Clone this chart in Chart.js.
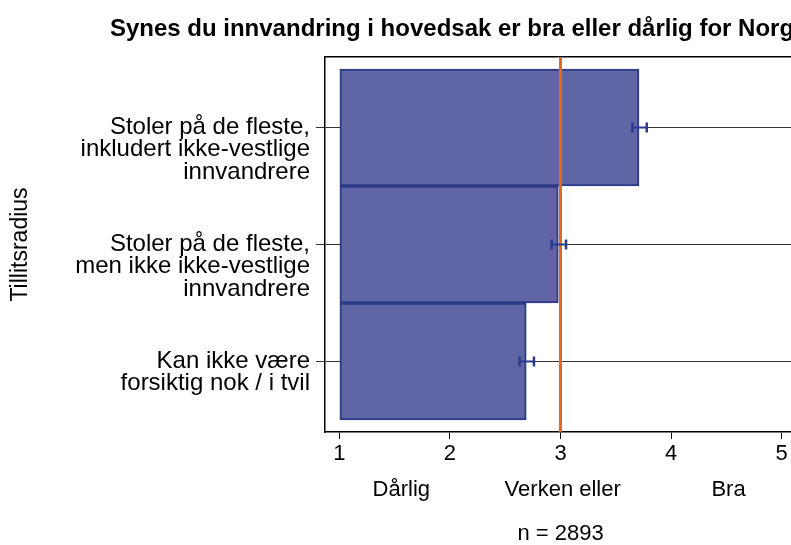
<!DOCTYPE html>
<html>
<head>
<meta charset="utf-8">
<script src="https://cdn.jsdelivr.net/npm/chart.js@4.4.1/dist/chart.umd.min.js"></script>
<style>
  html, body { margin: 0; padding: 0; background: #ffffff; overflow: hidden; }
  #wrap { position: relative; height: 545px; }
</style>
</head>
<body>
<div id="wrap"><canvas id="c"></canvas></div>
<script>
// ---- data ----
const categories = [
  ["Stoler på de fleste,", "inkludert ikke-vestlige", "innvandrere"],
  ["Stoler på de fleste,", "men ikke ikke-vestlige", "innvandrere"],
  ["Kan ikke være", "forsiktig nok / i tvil"]
];
const means    = [3.71, 2.98, 2.69];
const ciLow    = [3.65, 2.92, 2.63];
const ciHigh   = [3.78, 3.05, 2.76];
const xTicks   = [1, 2, 3, 4, 5];
const answerLabels = ["Dårlig", "Verken eller", "Bra"];
const answerPos    = [1.56, 3.02, 4.52];
const refLine  = [3];
const titleText = "Synes du innvandring i hovedsak er bra eller dårlig for Norge?";
const xTitle = "n = 2893";
const yTitle = "Tillitsradius";

// ---- layout helpers ----
const FONT = '"Liberation Sans", Arial, Helvetica, sans-serif';
const TITLE_SIZE = 24;
const TICK_SIZE = 22;
const YTICK_SIZE = 24;
const mctx = document.createElement('canvas').getContext('2d');
mctx.font = 'bold ' + TITLE_SIZE + 'px ' + FONT;
const titleW = mctx.measureText(titleText).width;
const W = Math.round(2 * 110 + titleW);
const PLOT_LEFT = 325, PLOT_RIGHT = 796, PLOT_TOP = 57, PLOT_BOTTOM = 432;

const canvas = document.getElementById('c');
canvas.width = W; canvas.height = 545;
canvas.style.width = W + 'px'; canvas.style.height = '545px';
document.getElementById('wrap').style.width = W + 'px';

const Y_MIN = -0.603, Y_MAX = 2.603;
const X_MIN = 0.87, X_MAX = 5.13;

const barColor = '#6066a5';
const barBorder = '#2d3a8b';
const orange = '#e6691a';

const errorBars = {
  id: 'errorBars',
  afterDatasetsDraw(chart) {
    const ctx = chart.ctx;
    const xs = chart.scales.x, ys = chart.scales.y;
    ctx.save();
    ctx.strokeStyle = barBorder;
    for (let i = 0; i < means.length; i++) {
      const y = ys.getPixelForValue(i);
      const x1 = xs.getPixelForValue(ciLow[i]);
      const x2 = xs.getPixelForValue(ciHigh[i]);
      ctx.lineWidth = 2;
      ctx.beginPath();
      ctx.moveTo(x1, y); ctx.lineTo(x2, y);
      ctx.stroke();
      ctx.lineWidth = 2.5;
      ctx.beginPath();
      ctx.moveTo(x1, y - 5); ctx.lineTo(x1, y + 5);
      ctx.moveTo(x2, y - 5); ctx.lineTo(x2, y + 5);
      ctx.stroke();
    }
    ctx.restore();
  }
};

// first line of each label sits on its tick (pad with blank lines above)
const tickLabel = i => {
  const lines = categories[i];
  return Array(lines.length - 1).fill('').concat(lines);
};

new Chart(canvas, {
  type: 'bar',
  data: {
    datasets: [
      {
        type: 'bar',
        data: means.map((v, i) => ({ x: v, y: i })),
        base: 1,
        backgroundColor: barColor,
        borderColor: barBorder,
        borderWidth: 2,
        borderSkipped: false,
        barPercentage: 1,
        categoryPercentage: 1,
        xAxisID: 'x', yAxisID: 'y',
        order: 2
      },
      {
        type: 'line',
        data: [{ x: refLine[0], y: Y_MIN }, { x: refLine[0], y: Y_MAX }],
        borderColor: orange,
        borderWidth: 3,
        pointRadius: 0,
        fill: false,
        xAxisID: 'x', yAxisID: 'y',
        order: 1
      }
    ]
  },
  options: {
    indexAxis: 'y',
    responsive: false,
    animation: false,
    devicePixelRatio: 1,
    layout: { padding: 0 },
    plugins: {
      legend: { display: false },
      tooltip: { enabled: false },
      title: {
        display: true,
        text: titleText,
        color: '#000',
        font: { family: FONT, size: TITLE_SIZE, weight: 'bold' },
        padding: { top: 14.5, bottom: 13.7 }
      }
    },
    scales: {
      y: {
        type: 'linear', position: 'left', reverse: true,
        offset: false,
        min: Y_MIN, max: Y_MAX,
        afterBuildTicks: s => { s.ticks = categories.map((c, i) => ({ value: i })); },
        afterFit: s => { s.width = PLOT_LEFT; },
        ticks: {
          color: '#000',
          font: { family: FONT, size: YTICK_SIZE, lineHeight: 0.93 },
          padding: 6,
          callback: v => tickLabel(v)
        },
        grid: { offset: false, color: '#333', lineWidth: 1, tickLength: 9, drawTicks: true },
        border: { display: true, color: '#000', width: 1.5 },
        title: {
          display: true, text: yTitle, color: '#000',
          font: { family: FONT, size: 23 },
          padding: { top: 7, bottom: 0 }
        }
      },
      y2: {
        type: 'linear', position: 'right', reverse: true, offset: false,
        min: Y_MIN, max: Y_MAX,
        afterFit: s => { s.width = W - PLOT_RIGHT; },
        ticks: { display: false },
        grid: { display: false },
        border: { display: true, color: '#000', width: 1.5 }
      },
      x: {
        type: 'linear', position: 'bottom', weight: 0,
        min: X_MIN, max: X_MAX,
        afterBuildTicks: s => { s.ticks = xTicks.map(v => ({ value: v })); },
        afterFit: s => { s.height = 40; },
        ticks: {
          color: '#000', font: { family: FONT, size: TICK_SIZE },
          padding: 2, maxRotation: 0, autoSkip: false,
          callback: v => String(v)
        },
        grid: { drawOnChartArea: false, drawTicks: true, tickLength: 7, color: '#000', lineWidth: 1 },
        border: { display: true, color: '#000', width: 1.5 }
      },
      x2: {
        type: 'linear', position: 'bottom', weight: 1,
        min: X_MIN, max: X_MAX,
        afterBuildTicks: s => { s.ticks = answerPos.map(v => ({ value: v })); },
        afterFit: s => { s.height = 545 - PLOT_BOTTOM - 40; },
        ticks: {
          color: '#000', font: { family: FONT, size: TICK_SIZE },
          padding: 5, maxRotation: 0, autoSkip: false,
          callback: (v, i) => answerLabels[i]
        },
        grid: { display: false, drawTicks: false },
        border: { display: false },
        title: {
          display: true, text: xTitle, color: '#000',
          font: { family: FONT, size: TICK_SIZE },
          padding: { top: 0, bottom: -2 }
        }
      },
      xTop: {
        type: 'linear', position: 'top',
        min: X_MIN, max: X_MAX,
        afterFit: s => { s.height = 0; },
        ticks: { display: false },
        grid: { display: false, drawTicks: false },
        border: { display: true, color: '#000', width: 1.5 }
      }
    }
  },
  plugins: [errorBars]
});
</script>
</body>
</html>
